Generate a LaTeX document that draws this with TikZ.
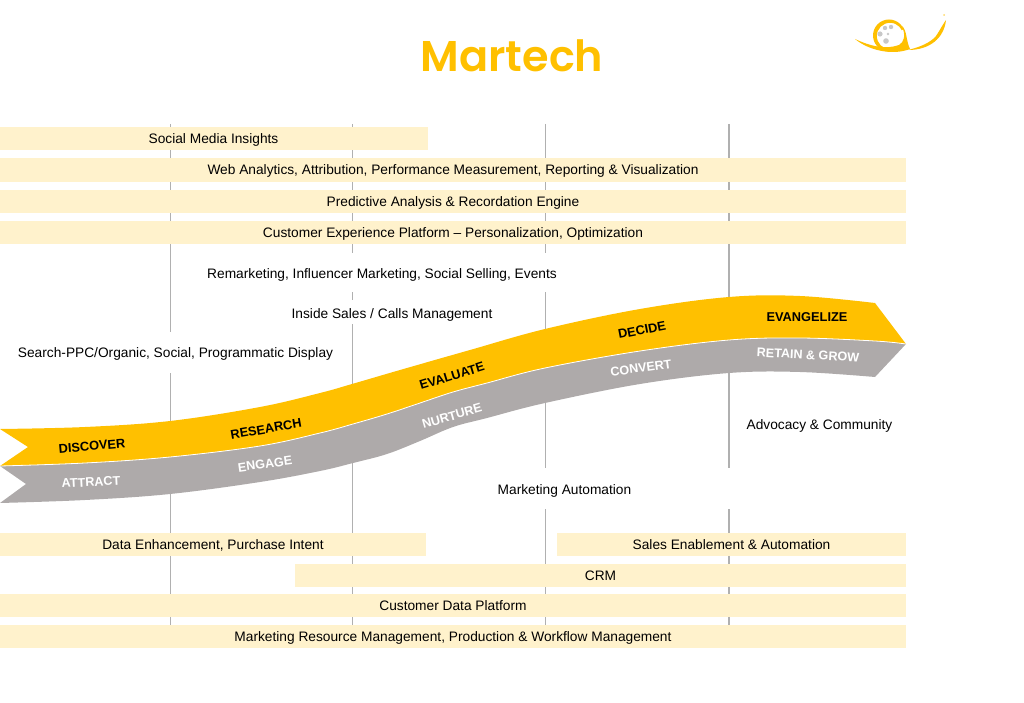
\documentclass[tikz,border=0pt]{standalone}
\usepackage{fontspec}
\setmainfont{Liberation Sans}
\newfontfamily\titlefont{Poppins SemiBold}
\definecolor{bar-color}{RGB}{255,242,204}
\definecolor{gold-color}{RGB}{255,192,0}
\definecolor{stone-color}{RGB}{174,170,170}
\definecolor{line-color}{RGB}{176,176,176}
\definecolor{dot-color}{RGB}{200,200,200}
\tikzset{
    bar/.style={fill=bar-color, minimum height=23.5pt, inner sep=0pt, text height=12pt, text depth=2pt, font=\fontsize{13.73}{15}\selectfont},
    plain/.style={inner sep=0pt, text height=12pt, text depth=2pt, font=\fontsize{13.73}{15}\selectfont},
    darktag/.style={inner sep=0pt, text=black, font=\fontsize{12.8}{15}\selectfont\bfseries},
    lighttag/.style={inner sep=0pt, text=white, font=\fontsize{12.6}{15}\selectfont\bfseries},
    rule/.style={draw=line-color, line width=1pt}
}
\begin{document}
\begin{tikzpicture}[x=1pt,y=-1pt]
    \useasboundingbox (0,0) rectangle (1024,703);

    % stage rules
    \foreach \x/\a/\b in {170/124/332, 170/373/625,
                          352.5/124/253, 352.5/292/300, 352.5/324/625,
                          545/124/253, 545/292/468, 545/509/625}
        \draw[rule] (\x,\a) -- (\x,\b);
    \foreach \a/\b in {124/468, 509/625}
        \draw[rule, line width=1.4pt] (729,\a) -- (729,\b);

    % ribbon
    \fill[stone-color] (0,466) -- (26,484) -- (0,503)
        -- plot[smooth, tension=0.6] coordinates {(0,503) (85,500) (170,494) (260,482) (320,471) (353,463) (387,454) (420,441) (453,427) (487,418) (545,403) (640,384) (729,373) (800,372) (875,377)}
        -- (906,344)
        -- plot[smooth, tension=0.6] coordinates {(906,344) (875,341) (800,338) (729,340) (640,351) (545,368) (487,383) (453,392) (420,403) (387,414) (353,424) (320,433) (260,446) (170,457) (85,463) (0,466)}
        -- cycle;
    \fill[gold-color] (0,429) -- (28,447) -- (0,466)
        -- plot[smooth, tension=0.6] coordinates {(0,466) (85,463) (170,457) (260,446) (320,433) (353,424) (387,414) (420,403) (453,392) (487,383) (545,368) (640,351) (729,340) (800,338) (875,341) (906,344)}
        -- (875,303)
        -- plot[smooth, tension=0.6] coordinates {(875,303) (800,296) (729,297) (640,309) (545,329) (470,350) (400,370) (352,384) (320,393) (260,407) (170,421) (85,427) (0,429)}
        -- cycle;
    \draw[white, line width=0.8pt] plot[smooth, tension=0.6] coordinates {(0,466) (85,463) (170,457) (260,446) (320,433) (353,424) (387,414) (420,403) (453,392) (487,383) (545,368) (640,351) (729,340) (800,338) (875,341) (906,344)};

    \node[darktag, rotate=5] (discover) at (92,446) {DISCOVER};
    \node[darktag, rotate=10] (research) at (266,429) {RESEARCH};
    \node[darktag, rotate=17] (evaluate) at (452,376) {EVALUATE};
    \node[darktag, rotate=11] (decide) at (642,330) {DECIDE};
    \node[darktag] (evangelize) at (807,317) {EVANGELIZE};
    \node[lighttag, rotate=3] (attract) at (91,482) {ATTRACT};
    \node[lighttag, rotate=8] (engage) at (265,464) {ENGAGE};
    \node[lighttag, rotate=16] (nurture) at (452,416) {NURTURE};
    \node[lighttag, rotate=8] (convert) at (641,368) {CONVERT};
    \node[lighttag, rotate=-3] (retain) at (808,355) {RETAIN \& GROW};

    % top bars
    \node[bar, minimum width=428pt] (insights) at (214,138.5) {\hspace*{-1pt}Social Media Insights};
    \node[bar, minimum width=906pt] (analytics) at (453,170) {Web Analytics, Attribution, Performance Measurement, Reporting \& Visualization};
    \node[bar, minimum width=906pt] (predictive) at (453,201.5) {Predictive Analysis \& Recordation Engine};
    \node[bar, minimum width=906pt] (experience) at (453,232.5) {Customer Experience Platform -- Personalization, Optimization};

    % free labels
    \node[plain] (remarketing) at (382,273) {Remarketing, Influencer Marketing, Social Selling, Events};
    \node[plain] (inside) at (392,313) {Inside Sales / Calls Management};
    \node[plain] (search) at (175.5,352.5) {Search-PPC/Organic, Social, Programmatic Display};
    \node[plain] (advocacy) at (819.5,424.5) {Advocacy \& Community};
    \node[plain] (automation) at (564.5,489) {Marketing Automation};

    % bottom bars
    \node[bar, minimum width=426pt] (enhancement) at (213,544.5) {Data Enhancement, Purchase Intent};
    \node[bar, minimum width=349pt] (sales) at (731.5,544.5) {Sales Enablement \& Automation};
    \node[bar, minimum width=611pt] (crm) at (600.5,575.5) {CRM};
    \node[bar, minimum width=906pt] (customer) at (453,605.5) {Customer Data Platform};
    \node[bar, minimum width=906pt] (resource) at (453,636.5) {Marketing Resource Management, Production \& Workflow Management};

    % title
    \node[inner sep=0pt, text=gold-color, font=\titlefont\fontsize{43}{50}\selectfont] (title) at (512,56) {Martech};

    % logo
    \fill[gold-color, even odd rule] (889,35.5) circle (16pt) (890,36) circle (13.2pt);
    \fill[white] (895,46) -- (910,46) -- (910,30) -- (902,30) -- cycle;
    \fill[gold-color] (855,39) .. controls (868,50) and (892,56) .. (910,49)
        .. controls (906,41) and (907,30) .. (902,26)
        .. controls (906,36) and (904,42) .. (899,45)
        .. controls (885,50) and (870,46) .. (855,39) -- cycle;
    \fill[gold-color] (908,50) .. controls (930,50) and (944,38) .. (946,20)
        .. controls (943,24) and (940,30) .. (936,36)
        .. controls (930,43) and (920,47) .. (908,50) -- cycle;
    \fill[gold-color!60] (944,15) circle (1pt);
    \foreach \x/\y/\r in {885/28/2.2, 891/27/2.2, 880/34/2.6, 888/34/1.3, 886/41/2.8}
        \fill[dot-color] (\x,\y) circle (\r pt);
\end{tikzpicture}
\end{document}
